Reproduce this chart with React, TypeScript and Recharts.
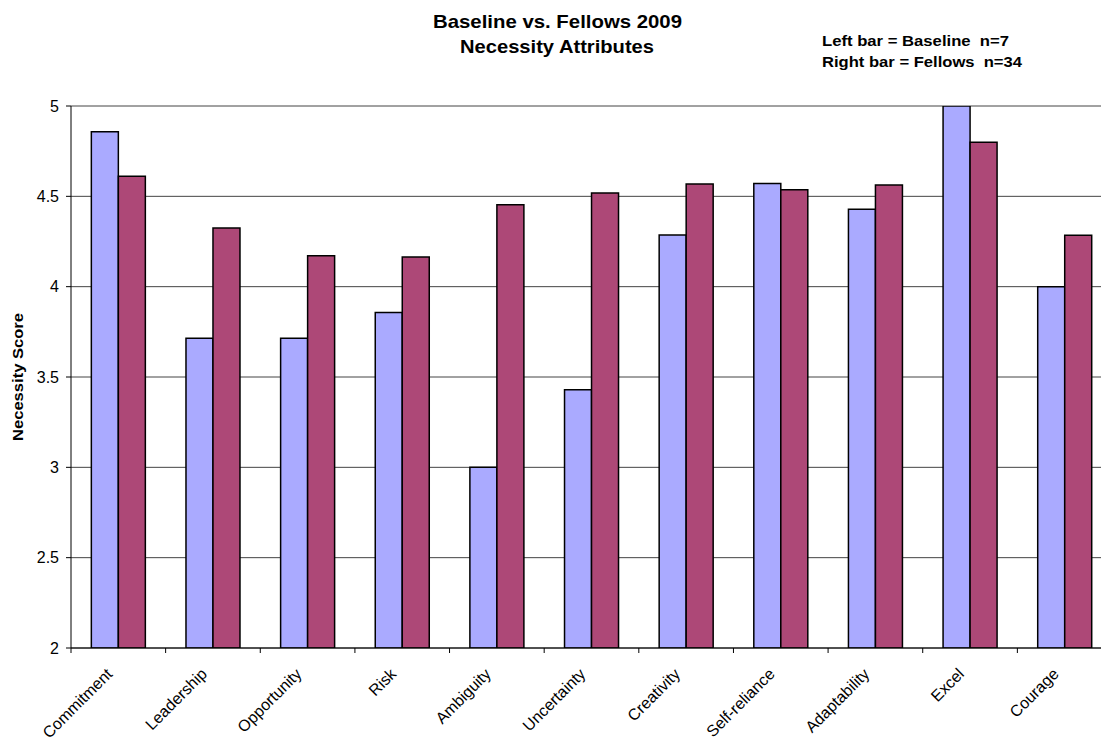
import React from "react";
import { BarChart, Bar, XAxis, YAxis, CartesianGrid } from "recharts";

const categories = [
  "Commitment",
  "Leadership",
  "Opportunity",
  "Risk",
  "Ambiguity",
  "Uncertainty",
  "Creativity",
  "Self-reliance",
  "Adaptability",
  "Excel",
  "Courage",
];
const baseline = [4.857, 3.714, 3.714, 3.857, 3.0, 3.429, 4.286, 4.571, 4.429, 5.0, 4.0];
const fellows = [4.611, 4.325, 4.171, 4.164, 4.453, 4.518, 4.568, 4.537, 4.563, 4.8, 4.285];
const yTicks = [2, 2.5, 3, 3.5, 4, 4.5, 5];

const data = categories.map((name, i) => ({
  name,
  baseline: baseline[i],
  fellows: fellows[i],
}));

const FONT = "'Liberation Sans', Arial, sans-serif";
const CHART_W = 1130;
const CHART_H = 741;
const MARGIN = { top: 106, right: 18, bottom: 0, left: 7 };
const Y_AXIS_W = 64;
const PLOT_W = CHART_W - MARGIN.left - MARGIN.right - Y_AXIS_W;
const STEP = PLOT_W / categories.length;

const CategoryTick = (props: any) => {
  const { x, y, payload } = props;
  const bx = x - STEP / 2;
  return (
    <g>
      <line x1={bx} y1={y} x2={bx} y2={y + 5} stroke="#000" strokeWidth={1} />
      <text
        transform={`translate(${x - 5}, ${y + 27}) rotate(-45)`}
        textAnchor="end"
        fontFamily={FONT}
        fontSize={16}
        fill="#000"
      >
        {payload.value}
      </text>
    </g>
  );
};

export default function App() {
  return (
    <div
      style={{
        position: "absolute",
        left: 0,
        top: 0,
        width: 1101,
        height: 741,
        overflow: "hidden",
        background: "#fff",
      }}
    >
      <BarChart
        width={CHART_W}
        height={CHART_H}
        data={data}
        margin={MARGIN}
        barCategoryGap="21.5%"
        barGap={0}
      >
        <CartesianGrid vertical={false} stroke="#444" strokeWidth={1} />
        <XAxis
          dataKey="name"
          interval={0}
          height={93}
          tickSize={0}
          tickMargin={0}
          tickLine={false}
          axisLine={{ stroke: "#000", strokeWidth: 1 }}
          tick={<CategoryTick />}
        />
        <YAxis
          domain={[2, 5]}
          ticks={yTicks}
          width={Y_AXIS_W}
          tickSize={5}
          tickMargin={7}
          axisLine={{ stroke: "#000", strokeWidth: 1 }}
          tickLine={{ stroke: "#000", strokeWidth: 1 }}
          tick={{ fill: "#000", fontSize: 16, fontFamily: FONT }}
          allowDataOverflow
        />
        <Bar
          dataKey="baseline"
          fill="#aaaaff"
          stroke="#000"
          strokeWidth={1.5}
          isAnimationActive={false}
        />
        <Bar
          dataKey="fellows"
          fill="#ad4877"
          stroke="#000"
          strokeWidth={1.5}
          isAnimationActive={false}
        />
      </BarChart>
      <svg
        width={1101}
        height={741}
        style={{ position: "absolute", left: 0, top: 0, pointerEvents: "none" }}
      >
        <g fontFamily={FONT} fontWeight="bold" fill="#000">
          <text x={433} y={28} fontSize={19} textLength={249} lengthAdjust="spacingAndGlyphs">
            Baseline vs. Fellows 2009
          </text>
          <text x={460} y={53} fontSize={19} textLength={194} lengthAdjust="spacingAndGlyphs">
            Necessity Attributes
          </text>
          <text
            x={822}
            y={46}
            fontSize={15}
            textLength={187}
            lengthAdjust="spacingAndGlyphs"
            style={{ whiteSpace: "pre" }}
          >
            {"Left bar = Baseline  n=7"}
          </text>
          <text
            x={822}
            y={67}
            fontSize={15}
            textLength={200}
            lengthAdjust="spacingAndGlyphs"
            style={{ whiteSpace: "pre" }}
          >
            {"Right bar = Fellows  n=34"}
          </text>
          <text
            transform="translate(23, 441) rotate(-90)"
            fontSize={15}
            textLength={128}
            lengthAdjust="spacingAndGlyphs"
          >
            Necessity Score
          </text>
        </g>
      </svg>
    </div>
  );
}
